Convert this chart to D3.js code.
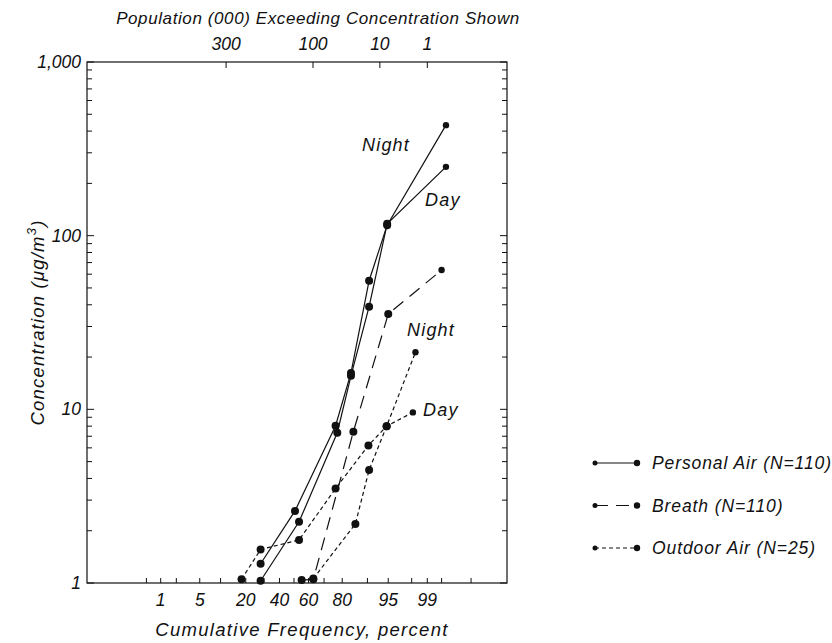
<!DOCTYPE html>
<html><head><meta charset="utf-8">
<script src="https://cdn.jsdelivr.net/npm/d3@7"></script>
<style>
body{margin:0;background:#fff;}
svg text{font-family:"Liberation Sans",Arial,sans-serif;font-style:italic;fill:#111;}
</style></head>
<body><svg id="c" width="832" height="643"></svg>
<script>
// ---- data ----
const personalNightPct = [28, 50.7, 76.6, 84, 90.5, 94.8, 99.6];
const personalNightVal = [1.29, 2.6, 8.05, 16.2, 55, 115, 433];
const personalDayPct   = [28, 53.5, 77.5, 84, 90.5, 94.8, 99.6];
const personalDayVal   = [1.03, 2.25, 7.33, 15.6, 39, 117, 249];
const breathPct        = [55.3, 63.2, 85, 95, 99.5];
const breathVal        = [1.04, 1.05, 7.44, 35.4, 63.4];
const outdoorNightPct  = [63.2, 85.8, 90.5, 94.7, 98.3];
const outdoorNightVal  = [1.06, 2.19, 4.47, 8.0, 21.3];
const outdoorDayPct    = [18, 28, 53.5, 76.6, 90.3, 94.7, 98.1];
const outdoorDayVal    = [1.05, 1.56, 1.77, 3.5, 6.2, 8.0, 9.6];

const bottomTickLabels = [1, 5, 20, 40, 60, 80, 95, 99];
const bottomMinorTicks = [0.5, 1, 2, 5, 10, 20, 30, 40, 50, 60, 70, 80, 90, 95, 98, 99, 99.5, 99.9];
const topTickLabels = ["300", "100", "10", "1"];
const topTickPct = [11.8, 63, 93.3, 99.0];
const yTickValues = [1, 10, 100, 1000];
const yTickLabels = ["1", "10", "100", "1,000"];
const legendLabels = ["Personal Air (N=110)", "Breath (N=110)", "Outdoor Air (N=25)"];

// ---- probit (inverse normal CDF, Acklam) ----
function probit(p){
  const a=[-3.969683028665376e+01,2.209460984245205e+02,-2.759285104469687e+02,1.383577518672690e+02,-3.066479806614716e+01,2.506628277459239e+00];
  const b=[-5.447609879822406e+01,1.615858368580409e+02,-1.556989798598866e+02,6.680131188771972e+01,-1.328068155288572e+01];
  const c=[-7.784894002430293e-03,-3.223964580411365e-01,-2.400758277161838e+00,-2.549671664869043e+00,4.374645503095165e+00,2.938163982698783e+00];
  const d=[7.784695709041462e-03,3.224671290700398e-01,2.445134137142996e+00,3.754408661907416e+00];
  const pl=0.02425, ph=1-pl; let q,r;
  if(p<pl){q=Math.sqrt(-2*Math.log(p));return (((((c[0]*q+c[1])*q+c[2])*q+c[3])*q+c[4])*q+c[5])/((((d[0]*q+d[1])*q+d[2])*q+d[3])*q+1);}
  if(p<=ph){q=p-0.5;r=q*q;return (((((a[0]*r+a[1])*r+a[2])*r+a[3])*r+a[4])*r+a[5])*q/(((((b[0]*r+b[1])*r+b[2])*r+b[3])*r+b[4])*r+1);}
  q=Math.sqrt(-2*Math.log(1-p));return -(((((c[0]*q+c[1])*q+c[2])*q+c[3])*q+c[4])*q+c[5])/((((d[0]*q+d[1])*q+d[2])*q+d[3])*q+1);
}

const L=87, R=507, T=62, B=583;
const zScale = d3.scaleLinear().domain([-1,1]).range([294-57.3, 294+57.3]);
const x = pct => zScale(probit(pct/100));
const y = d3.scaleLog().domain([1,1000]).range([B,T]);

const svg = d3.select("#c");
const ink = "#111";

// frame
svg.append("rect").attr("x",L).attr("y",T).attr("width",R-L).attr("height",B-T)
  .attr("fill","none").attr("stroke",ink).attr("stroke-width",1.2);

// y ticks (both sides, inward)
const yMinor = [];
for (let dec=1; dec<1000; dec*=10) for (let k=2;k<=9;k++) yMinor.push(dec*k);
yMinor.forEach(v=>{
  svg.append("line").attr("x1",L).attr("x2",L+5).attr("y1",y(v)).attr("y2",y(v)).attr("stroke",ink);
  svg.append("line").attr("x1",R).attr("x2",R-5).attr("y1",y(v)).attr("y2",y(v)).attr("stroke",ink);
});
yTickValues.forEach((v,i)=>{
  svg.append("line").attr("x1",L).attr("x2",L+7).attr("y1",y(v)).attr("y2",y(v)).attr("stroke",ink);
  svg.append("line").attr("x1",R).attr("x2",R-7).attr("y1",y(v)).attr("y2",y(v)).attr("stroke",ink);
  svg.append("text").attr("x",L-6).attr("y",y(v)+6).attr("text-anchor","end")
    .attr("font-size",17.5).text(yTickLabels[i]);
});

// bottom ticks
bottomMinorTicks.forEach(p=>{
  svg.append("line").attr("x1",x(p)).attr("x2",x(p)).attr("y1",B).attr("y2",B-5).attr("stroke",ink);
});
bottomTickLabels.forEach(p=>{
  svg.append("text").attr("x",x(p)).attr("y",B+23).attr("text-anchor","middle")
    .attr("font-size",17.5).text(p);
});

// top ticks
topTickPct.forEach((p,i)=>{
  svg.append("line").attr("x1",x(p)).attr("x2",x(p)).attr("y1",T).attr("y2",T+6).attr("stroke",ink);
  svg.append("text").attr("x",x(p)).attr("y",T-12).attr("text-anchor","middle")
    .attr("font-size",17.5).text(topTickLabels[i]);
});

// titles
svg.append("text").attr("x",318).attr("y",24).attr("text-anchor","middle")
  .attr("font-size",17).attr("letter-spacing",0.6).text("Population (000) Exceeding Concentration Shown");
svg.append("text").attr("x",302).attr("y",636).attr("text-anchor","middle")
  .attr("font-size",18.5).attr("letter-spacing",1.3).text("Cumulative Frequency, percent");
const yl = svg.append("text").attr("transform",`translate(44,${(T+B)/2}) rotate(-90)`)
  .attr("text-anchor","middle").attr("font-size",18.5).attr("letter-spacing",1.2);
yl.append("tspan").text("Concentration (μg/m");
yl.append("tspan").attr("dy",-8).attr("font-size",13).text("3");
yl.append("tspan").attr("dy",8).text(")");

// series
const series = [
  {pct:personalNightPct, val:personalNightVal, dash:null},
  {pct:personalDayPct, val:personalDayVal, dash:null},
  {pct:breathPct, val:breathVal, dash:"13,8"},
  {pct:outdoorNightPct, val:outdoorNightVal, dash:"4,3"},
  {pct:outdoorDayPct, val:outdoorDayVal, dash:"4,3"}
];
const line = d3.line().x(d=>x(d[0])).y(d=>y(d[1]));
series.forEach(s=>{
  const pts = s.pct.map((p,i)=>[p,s.val[i]]);
  svg.append("path").datum(pts).attr("d",line).attr("fill","none")
    .attr("stroke",ink).attr("stroke-width",1.2).attr("stroke-dasharray",s.dash);
  svg.selectAll(null).data(pts).enter().append("circle")
    .attr("cx",d=>x(d[0])).attr("cy",d=>y(d[1])).attr("r",(d,i)=>i===pts.length-1?3.2:4)
    .attr("fill",ink);
});

// curve labels
const curveLabels = [
  {t:"Night", x:362, y:151},
  {t:"Day", x:425, y:206},
  {t:"Night", x:407, y:336},
  {t:"Day", x:423, y:416}
];
curveLabels.forEach(c=>{
  svg.append("text").attr("x",c.x).attr("y",c.y).attr("font-size",18).attr("letter-spacing",1.2).text(c.t);
});

// legend
const legDash = [null, "13,8", "4,3"];
legendLabels.forEach((t,i)=>{
  const ly = 463 + i*42.5;
  svg.append("line").attr("x1",595).attr("x2",637).attr("y1",ly).attr("y2",ly)
    .attr("stroke",ink).attr("stroke-width",1.1).attr("stroke-dasharray",legDash[i]);
  svg.append("circle").attr("cx",595).attr("cy",ly).attr("r",2.5).attr("fill",ink);
  svg.append("circle").attr("cx",637).attr("cy",ly).attr("r",3.2).attr("fill",ink);
  svg.append("text").attr("x",652).attr("y",ly+6).attr("font-size",17.5).attr("letter-spacing",0.9).text(t);
});
</script></body></html>
